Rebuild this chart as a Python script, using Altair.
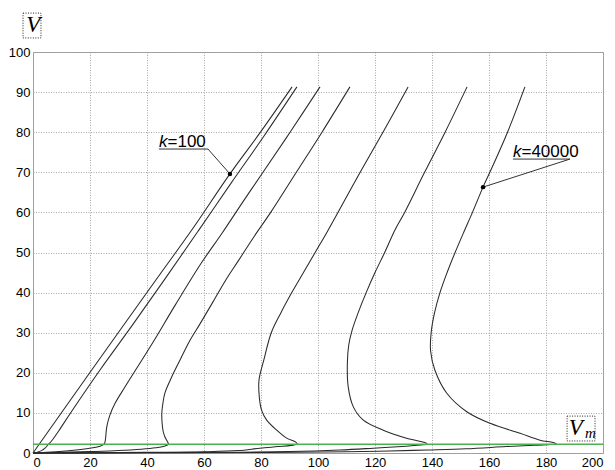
import altair as alt
import pandas as pd

# ---- curves (V_m on x, V on y), ordered from origin -> nose -> top ----
k1_x = [0, 20.6, 45, 55.7, 69.1, 80, 90.9]
k1_v = [0, 20.7, 45, 55.6, 69.6, 80.2, 91.3]

k2_x = [0, 1.5, 3, 4.2, 5.2, 6.5, 9, 13, 23.5, 35, 46.5, 58, 69.5, 81, 92.6]
k2_v = [0, 0.2, 0.6, 1.2, 2.0, 3.0, 5.5, 9.8, 20.7, 32, 43.6, 55.4, 67.3, 79, 91.3]

k3_x = [0, 8, 16, 21, 23.5, 24.7, 25.2, 25.9, 27, 28.8, 32.3, 36, 42, 50, 59, 66.5, 74, 80.7, 90.2, 100.7]
k3_v = [0, 0.3, 0.8, 1.3, 1.7, 2.1, 2.6, 6.6, 9.5, 12.4, 16.5, 20.7, 27.5, 37, 47.3, 55, 63, 70, 80, 91.3]

k4_x = [0, 10, 20, 30, 38, 43, 46, 47.5, 47.2, 46.3, 45.7, 45.3, 45.2, 45.6, 46.3, 48.7, 51.6, 55, 58.6, 63, 67.6, 72.2, 77.6, 83.4, 92.4, 101.4, 111.2]
k4_v = [0, 0.15, 0.35, 0.6, 0.95, 1.3, 1.7, 2.2, 2.8, 4, 5.3, 7.5, 10, 12.5, 15, 19, 23.2, 28, 32.2, 37.5, 43.1, 48.1, 54, 60, 70, 80, 91.3]

k5_x = [0, 20, 40, 60, 72, 79.6, 86, 90.5, 92.7, 92.2, 89, 85.5, 82, 80.2, 79.4, 79.3, 81, 83.6, 87, 90.8, 94.9, 99, 103.1, 107, 114.8, 122.8, 131.6]
k5_v = [0, 0.05, 0.15, 0.3, 0.6, 1.2, 1.6, 1.9, 2.2, 2.7, 3.7, 5.7, 8.2, 10.7, 14, 18.2, 23.2, 30, 35, 40, 45, 50, 55, 60, 70, 80, 91.3]

k6_x = [0, 30, 60, 90, 107.7, 119.4, 131, 136, 138.4, 137.5, 131.1, 122.9, 115.9, 112.4, 110.6, 110.3, 110.8, 112, 114.1, 116.9, 120, 123.4, 127, 130.4, 137.4, 144.6, 152.3]
k6_v = [0, 0.05, 0.15, 0.35, 0.75, 1.2, 1.7, 2.0, 2.2, 2.6, 3.7, 5.7, 8.2, 11.5, 16.5, 22.4, 27, 30.7, 35, 40, 45, 50, 55.6, 60, 70, 80, 91.3]

k7_x = [0, 40, 80, 110, 125, 138.4, 152, 166, 176, 181.5, 183.7, 182.5, 177.9, 170.9, 160.4, 152.2, 145.2, 141, 139.5, 139.7, 140.9, 142.8, 145.3, 148.1, 151.1, 154.2, 157.9, 160.3, 166.5, 172.6]
k7_v = [0, 0.04, 0.12, 0.3, 0.5, 0.75, 1.05, 1.6, 1.95, 2.1, 2.2, 2.6, 3.2, 4.9, 7.4, 10.3, 14.9, 20.7, 25.5, 30, 35, 40, 45, 50, 55, 60, 66.3, 70, 80, 91.3]

curve_names = ["k=100", "c2", "c3", "c4", "c5", "c6", "k=40000"]
curve_xs = [k1_x, k2_x, k3_x, k4_x, k5_x, k6_x, k7_x]
curve_vs = [k1_v, k2_v, k3_v, k4_v, k5_v, k6_v, k7_v]

# green level line
green_x = [0, 200]
green_v = [2.2, 2.2]

# axis ticks
x_ticks = [0, 20, 40, 60, 80, 100, 120, 140, 160, 180, 200]
y_ticks = [0, 10, 20, 30, 40, 50, 60, 70, 80, 90, 100]

# annotations (data coordinates)
lab_k_x = [44.2, 168.4]
lab_k_v = [76.4, 73.8]
lab_rest_x = [47.2, 171.4]
lab_rest_v = [76.4, 73.8]
lab_rest_text = ["=100", "=40000"]
leader_seg = ["a", "a", "a", "b", "b", "b"]
leader_x = [44.2, 61.4, 69.1, 168.4, 188.4, 157.9]
leader_v = [75.8, 75.8, 69.6, 73.3, 73.3, 66.3]
dot_x = [69.1, 157.9]
dot_v = [69.6, 66.3]

box_x1 = [-3.5, 187.4]
box_x2 = [2.8, 197.2]
box_v1 = [109.7, 9.2]
box_v2 = [103.5, 3.0]
sym_x = [-2.4, 188.0]
sym_v = [105.0, 4.5]
sym_text = ["V", "V"]
sub_x = [193.7]
sub_v = [3.7]
sub_text = ["m"]

rows = []
for name, xs, vs in zip(curve_names, curve_xs, curve_vs):
    for i, (x, v) in enumerate(zip(xs, vs)):
        rows.append({"curve": name, "i": i, "Vm": x, "V": v})
df = pd.DataFrame(rows)

xscale = alt.Scale(domain=[0, 200], nice=False, zero=False)
yscale = alt.Scale(domain=[0, 100], nice=False, zero=False)

axis_common = dict(title=None, grid=True, gridDash=[1, 1.5], gridColor="#a8a8a8",
                   gridWidth=1, ticks=False, domain=False, labelFontSize=13,
                   labelColor="black", labelFont="Liberation Sans")

lines = alt.Chart(df).mark_line(color="#2a2a2a", strokeWidth=1.05,
                                interpolate="catmull-rom").encode(
    x=alt.X("Vm:Q", scale=xscale,
            axis=alt.Axis(values=x_ticks, labelPadding=3, **axis_common)),
    y=alt.Y("V:Q", scale=yscale,
            axis=alt.Axis(values=y_ticks, labelPadding=3, **axis_common)),
    detail="curve:N",
    order="i:Q",
)

green = alt.Chart(pd.DataFrame({"Vm": green_x, "V": green_v})).mark_line(
    color="#4caf50", strokeWidth=1.6).encode(
    x=alt.X("Vm:Q", scale=xscale), y=alt.Y("V:Q", scale=yscale))

leaders = alt.Chart(pd.DataFrame({"seg": leader_seg, "i": list(range(6)),
                                  "Vm": leader_x, "V": leader_v})).mark_line(
    color="#333333", strokeWidth=1).encode(
    x=alt.X("Vm:Q", scale=xscale), y=alt.Y("V:Q", scale=yscale),
    detail="seg:N", order="i:Q")

dots = alt.Chart(pd.DataFrame({"Vm": dot_x, "V": dot_v})).mark_circle(
    color="black", size=20, opacity=1).encode(
    x=alt.X("Vm:Q", scale=xscale), y=alt.Y("V:Q", scale=yscale))

ktext = alt.Chart(pd.DataFrame({"Vm": lab_k_x, "V": lab_k_v, "t": ["k", "k"]})).mark_text(
    font="Liberation Sans", fontSize=17, fontStyle="italic", align="left",
    baseline="alphabetic", color="black").encode(
    x=alt.X("Vm:Q", scale=xscale), y=alt.Y("V:Q", scale=yscale), text="t:N")

resttext = alt.Chart(pd.DataFrame({"Vm": lab_rest_x, "V": lab_rest_v, "t": lab_rest_text})).mark_text(
    font="Liberation Sans", fontSize=17, align="left",
    baseline="alphabetic", color="black").encode(
    x=alt.X("Vm:Q", scale=xscale), y=alt.Y("V:Q", scale=yscale), text="t:N")

boxes = alt.Chart(pd.DataFrame({"x1": box_x1, "x2": box_x2, "v1": box_v1, "v2": box_v2})).mark_rect(
    fill="white", fillOpacity=0, stroke="#222222", strokeWidth=1, strokeDash=[1, 1.5]).encode(
    x=alt.X("x1:Q", scale=xscale), x2="x2:Q",
    y=alt.Y("v1:Q", scale=yscale), y2="v2:Q")

symtext = alt.Chart(pd.DataFrame({"Vm": sym_x, "V": sym_v, "t": sym_text})).mark_text(
    font="Liberation Serif", fontSize=23, fontStyle="italic", align="left",
    baseline="alphabetic", color="black").encode(
    x=alt.X("Vm:Q", scale=xscale), y=alt.Y("V:Q", scale=yscale), text="t:N")

subtext = alt.Chart(pd.DataFrame({"Vm": sub_x, "V": sub_v, "t": sub_text})).mark_text(
    font="Liberation Serif", fontSize=15, fontStyle="italic", align="left",
    baseline="alphabetic", color="black").encode(
    x=alt.X("Vm:Q", scale=xscale), y=alt.Y("V:Q", scale=yscale), text="t:N")

chart = alt.layer(lines, green, leaders, dots, ktext, resttext, boxes, symtext, subtext).properties(
    width=570, height=401,
    autosize=alt.AutoSizeParams(type="none"),
    padding={"left": 25, "top": 44, "right": 4, "bottom": 17},
).configure_view(stroke="#999999", strokeWidth=1)

chart.save("out.html", embed_options={"renderer": "svg", "actions": False})
